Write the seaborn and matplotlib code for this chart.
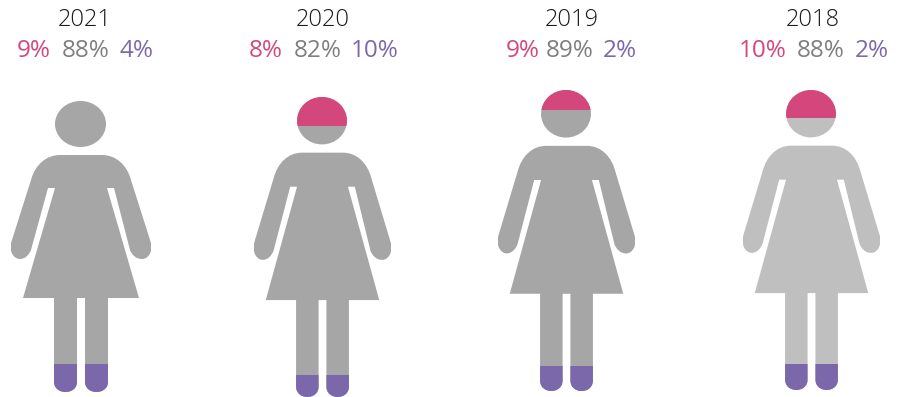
import matplotlib
matplotlib.use("Agg")
import matplotlib.pyplot as plt
import numpy as np
import pandas as pd
import seaborn as sns
from matplotlib.path import Path

# ---- values ----
years = ["2021", "2020", "2019", "2018"]
pct_top = [9, 8, 9, 10]
pct_mid = [88, 82, 89, 88]
pct_low = [4, 10, 2, 2]
# share of each silhouette's height that is shaded (as drawn in the reference)
shade_top = [0.0, 9.7, 6.6, 9.3]
shade_low = [9.6, 7.3, 8.3, 8.7]

PINK, PURPLE, TXT_GRAY = "#d4477c", "#7b68ab", "#7f7f7f"
BODY = ["#a6a6a6", "#a6a6a6", "#a6a6a6", "#bfbfbf"]

# ---- layout in reference pixels ----
W, H = 903, 397
boxes = [(11, 101, 140, 291), (254, 97, 137, 300), (498, 90, 137, 301), (743, 90, 137, 300)]
year_x = [84.5, 322.5, 571.5, 812.5]
pct_x = [(17, 62, 119), (249, 294, 351), (506, 546, 603), (739, 797, 855)]

sns.set_theme(style="white")
plt.rcParams["font.family"] = ["Open Sans", "DejaVu Sans"]


def silhouette():
    """Pictogram outline: template in px of a 140x291 figure, normalised to axes data units."""
    M, L, C, Z = Path.MOVETO, Path.LINETO, Path.CURVE4, Path.CLOSEPOLY
    segs = [
        (M, (60, 155)), (L, (102, 155)),
        (C, (116, 155)), (C, (127, 165)), (C, (131, 180)),
        (L, (151, 243)),
        (C, (153, 252)), (C, (148, 259)), (C, (142, 259)),
        (C, (136, 259)), (C, (132, 255)), (C, (130, 250)),
        (L, (114, 188)), (L, (107, 188)), (L, (139, 298)),
        (L, (108, 298)), (L, (108, 382)),
        (C, (108, 388)), (C, (103, 392)), (C, (96.5, 392)),
        (C, (90, 392)), (C, (85, 388)), (C, (85, 382)),
        (L, (85, 298)), (L, (77, 298)), (L, (77, 382)),
        (C, (77, 388)), (C, (72, 392)), (C, (65.5, 392)),
        (C, (59, 392)), (C, (54, 388)), (C, (54, 382)),
        (L, (54, 298)), (L, (23, 298)), (L, (55, 188)), (L, (48, 188)),
        (L, (31, 250)),
        (C, (29, 255)), (C, (25, 259)), (C, (20, 259)),
        (C, (14, 259)), (C, (9, 252)), (C, (11, 243)),
        (L, (31, 180)),
        (C, (35, 165)), (C, (46, 155)), (C, (60, 155)),
        (Z, (60, 155)),
    ]
    codes = [s[0] for s in segs]
    verts = [s[1] for s in segs]
    circ = Path.unit_circle()
    head = circ.vertices * [25.5, 23] + [80.5, 124]
    verts = np.vstack([verts, head])
    codes = list(codes) + list(circ.codes)
    verts = np.asarray(verts, float)
    verts[:, 0] = (verts[:, 0] - 81) / 140
    verts[:, 1] = (392 - verts[:, 1]) / 2.91
    return Path(verts, codes)


outline = silhouette()
fig = plt.figure(figsize=(W / 100, H / 100), dpi=100, facecolor="white")

for i, year in enumerate(years):
    l, t, w, h = boxes[i]
    ax = fig.add_axes([l / W, 1 - (t + h) / H, w / W, h / H])
    df = pd.DataFrame({"year": [year], "full": [100.0], "top": [shade_top[i]], "low": [shade_low[i]]})
    sns.barplot(data=df, x="year", y="full", color=BODY[i], saturation=1, width=1, ax=ax)
    sns.barplot(data=df, x="year", y="low", color=PURPLE, saturation=1, width=1, ax=ax)
    if shade_top[i] > 0:
        sns.barplot(data=df, x="year", y="top", bottom=100 - shade_top[i], color=PINK,
                    saturation=1, width=1, ax=ax)
    for p in ax.patches:
        p.set_clip_path(outline, ax.transData)
        p.set_linewidth(0)
    ax.set_xlim(-0.5, 0.5)
    ax.set_ylim(0, 100)
    ax.axis("off")

    fig.text(year_x[i] / W, 1 - 26 / H, year, fontsize=17, color="#1a1a1a", weight="light",
             ha="center", va="baseline")
    vals = (pct_top[i], pct_mid[i], pct_low[i])
    for x, v, c in zip(pct_x[i], vals, (PINK, TXT_GRAY, PURPLE)):
        fig.text(x / W, 1 - 57 / H, f"{v}%", fontsize=17.5, color=c, weight="normal",
                 ha="left", va="baseline")

fig.savefig("out.png", dpi=100)
